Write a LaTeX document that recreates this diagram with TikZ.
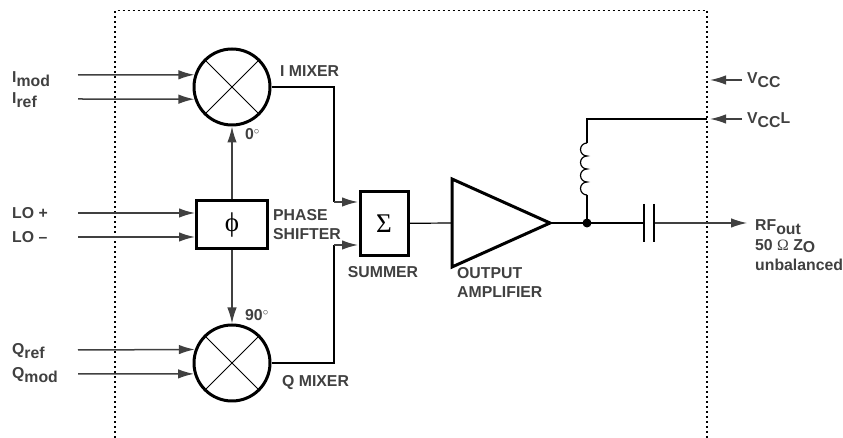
\documentclass[tikz,border=0pt]{standalone}
\usepackage{fontspec}
\setmainfont{Liberation Sans}
\newfontfamily\symfont{Liberation Serif}
\usetikzlibrary{arrows.meta}
\definecolor{inkgray}{gray}{0.25}
\newcommand{\lowtxt}[2][-4pt]{\raisebox{#1}{#2}}
\tikzset{
    label text/.style={text=inkgray,inner sep=0pt,anchor=base west,align=left,
        font=\fontsize{15.8}{19}\selectfont\bfseries},
    symbol text/.style={text=black,font=\fontsize{27}{27}\selectfont\symfont}
}

\begin{document}
\begin{tikzpicture}[
            x=1pt,y=1pt,
            wire/.style={draw=black,line width=1.2pt},
            sig/.style={draw=inkgray,line width=1.5pt,-{Latex[length=16pt,width=9.5pt]}},
            mixer/.style={circle,draw,line width=3pt,minimum size=76pt,inner sep=0pt},
            block/.style={rectangle,draw,line width=3pt,inner sep=0pt}
            ]
            \useasboundingbox (0,0) rectangle (843,438);
            % dotted outline
            \coordinate (boxleft) at (115,0);
            \coordinate (boxright) at (707,0);
            \coordinate (boxtop) at (707,427.5);
            \draw[line width=1.4pt,dash pattern=on 2.2pt off 2.8pt] (boxleft) |- (boxtop) -- (boxright);
            % blocks
            \node[mixer] (imix) at (232,351) {};
            \node[mixer] (qmix) at (232,75) {};
            \node[block,minimum width=71pt,minimum height=48pt,symbol text] (phase) at (232,213) {ϕ};
            \node[block,minimum width=48pt,minimum height=64.5pt,symbol text] (summer) at (384,214.5) {Σ};
            \draw[wire,line width=.9pt] (imix.45) -- (imix.225) (imix.135) -- (imix.315);
            \draw[wire,line width=.9pt] (qmix.45) -- (qmix.225) (qmix.135) -- (qmix.315);
            \coordinate (ampin) at (452,215);
            \coordinate (amptop) at (452,259);
            \coordinate (ampbot) at (452,171);
            \coordinate (ampout) at (550,215);
            \draw[line width=3pt,line join=miter] (amptop) -- (ampout) -- (ampbot) -- cycle;
            % inputs
            \coordinate (imodin) at (78,363);
            \coordinate (irefin) at (78,339);
            \coordinate (loplus) at (78,225);
            \coordinate (lominus) at (78,201);
            \coordinate (qrefin) at (78,88);
            \coordinate (qmodin) at (78,64);
            \draw[sig] (imodin) -- (imix.162);
            \draw[sig] (irefin) -- (imix.198);
            \draw[sig] (loplus) -- (phase.west |- loplus);
            \draw[sig] (lominus) -- (phase.west |- lominus);
            \draw[sig] (qrefin) -- (qmix.160);
            \draw[sig] (qmodin) -- (qmix.196);
            \draw[sig] (phase) -- (imix);
            \draw[sig] (phase) -- (qmix);
            % mixer outputs to summer
            \coordinate (ibend) at (334,236);
            \coordinate (qbend) at (334,193);
            \coordinate (isum) at (358,236);
            \coordinate (qsum) at (358,193);
            \draw[wire] (imix.east) -| (ibend);
            \draw[wire] (qmix.east) -| (qbend);
            \draw[sig] (ibend) -- (isum);
            \draw[sig] (qbend) -- (qsum);
            \draw[wire] (summer) -- (ampin);
            % output network
            \coordinate (junc) at (587,215);
            \coordinate (coilbot) at (587,243);
            \coordinate (coiltop) at (587,295);
            \coordinate (capleft) at (644,215);
            \coordinate (capright) at (654,215);
            \coordinate (rfend) at (747,215);
            \coordinate (vccledge) at (707,319);
            \draw[wire] (ampout) -- (capleft);
            \draw[sig,line width=1.2pt] (capright) -- (rfend);
            \fill (junc) circle (4.5pt);
            \draw[wire] (junc) -- (coilbot);
            \draw[wire] (coiltop) |- (vccledge);
            \draw[wire] (coilbot) arc[start angle=-90,end angle=-270,radius=6.5]
                arc[start angle=-90,end angle=-270,radius=6.5]
                arc[start angle=-90,end angle=-270,radius=6.5]
                arc[start angle=-90,end angle=-270,radius=6.5];
            \draw[wire] (capleft) ++(0,19) -- ++(0,-38);
            \draw[wire] (capright) ++(0,19) -- ++(0,-38);
            % supply arrows
            \coordinate (vccfrom) at (742,358);
            \coordinate (vccto) at (710,358);
            \coordinate (vcclfrom) at (742,319);
            \coordinate (vcclto) at (710,319);
            \draw[sig] (vccfrom) -- (vccto);
            \draw[sig] (vcclfrom) -- (vcclto);
            % labels
            \node[label text] (imodlab) at (12,355) {I\lowtxt{mod}};
            \node[label text] (ireflab) at (12,334) {I\lowtxt{ref}};
            \node[label text] (loplab) at (12,219) {LO +};
            \node[label text] (lomlab) at (12,195) {LO --};
            \node[label text] (qreflab) at (12,83) {Q\lowtxt{ref}};
            \node[label text] (qmodlab) at (12,59) {Q\lowtxt{mod}};
            \node[label text] (imixlab) at (280,361) {I MIXER};
            \node[label text] (qmixlab) at (282,51) {Q MIXER};
            \node[label text] (zerolab) at (245,298) {0$^\circ$};
            \node[label text] (ninetylab) at (245,117) {90$^\circ$};
            \node[label text,anchor=west] (phaselab) at (273,213.5) {PHASE\\SHIFTER};
            \node[label text,anchor=base] (sumlab) at (383,160) {SUMMER};
            \node[label text,anchor=west] (amplab) at (457,155.5) {OUTPUT\\AMPLIFIER};
            \node[label text] (vcclab) at (747,354) {V\lowtxt{CC}};
            \node[label text] (vccllab) at (747,314) {V\lowtxt{CC}L};
            \node[label text] (rflab) at (755,207) {RF\lowtxt{out}};
            \node[label text] (zlab) at (755,187) {50 {\symfont\mdseries Ω} Z\lowtxt[-2pt]{O}};
            \node[label text] (unballab) at (755,167) {unbalanced};
        \end{tikzpicture}
\end{document}
